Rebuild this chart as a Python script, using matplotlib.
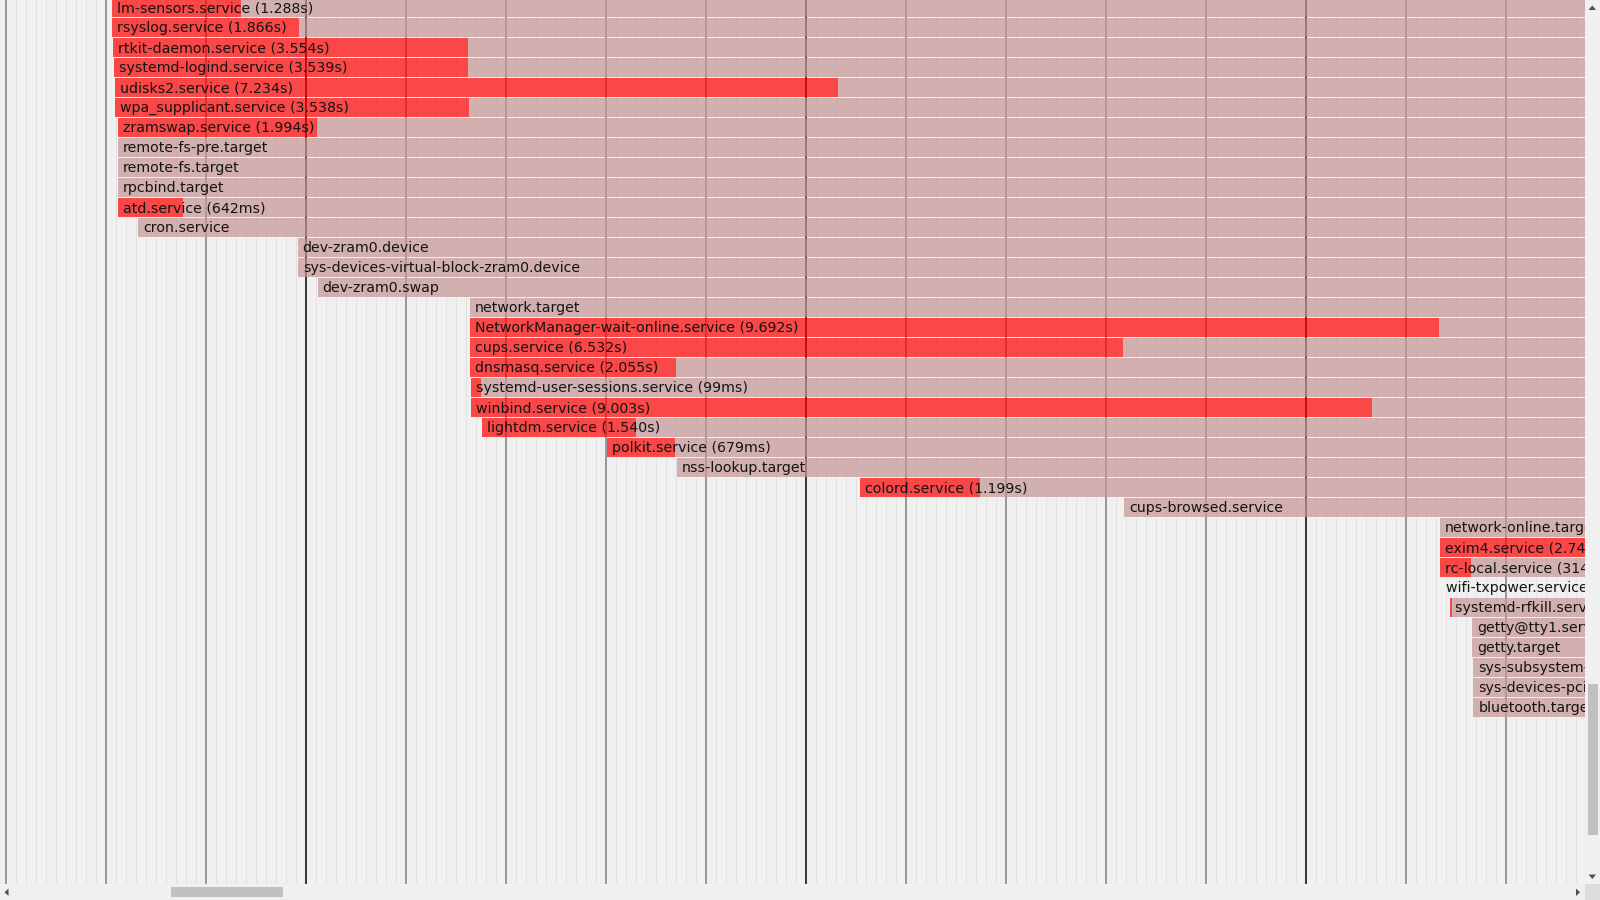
import numpy as np
import matplotlib
matplotlib.use("Agg")
import matplotlib.pyplot as plt
from matplotlib.patches import Rectangle, Polygon
from matplotlib.transforms import IdentityTransform

# unit names, top to bottom
units = [
    "lm-sensors.service", "rsyslog.service", "rtkit-daemon.service",
    "systemd-logind.service", "udisks2.service", "wpa_supplicant.service",
    "zramswap.service", "remote-fs-pre.target", "remote-fs.target",
    "rpcbind.target", "atd.service", "cron.service", "dev-zram0.device",
    "sys-devices-virtual-block-zram0.device", "dev-zram0.swap",
    "network.target", "NetworkManager-wait-online.service", "cups.service",
    "dnsmasq.service", "systemd-user-sessions.service", "winbind.service",
    "lightdm.service", "polkit.service", "nss-lookup.target",
    "colord.service", "cups-browsed.service", "network-online.target",
    "exim4.service", "rc-local.service", "wifi-txpower.service",
    "systemd-rfkill.service", "getty@tty1.service", "getty.target",
    "sys-subsystem-bluetooth-devices-hci0.device",
    "sys-devices-pci0000:00-0000:00:14.0-usb1-1\\x2d7-1\\x2d7:1.0-bluetooth-hci0.device",
    "bluetooth.target",
]

# activation start (s) for each unit
start = [
    3.057, 3.060, 3.070, 3.080, 3.090, 3.090, 3.120, 3.120, 3.120, 3.120,
    3.123, 3.323, 4.917, 4.917, 5.117, 6.637, 6.637, 6.640, 6.643, 6.650,
    6.653, 6.757, 8.007, 8.707, 10.540, 13.180, 16.340, 16.340, 16.340,
    16.345, 16.440, 16.663, 16.663, 16.673, 16.673, 16.673,
]

# time spent activating (s), None = no activation time shown
activating = [
    1.288, 1.866, 3.554, 3.539, 7.234, 3.538, 1.994, None, None, None,
    0.642, None, None, None, None, None, 9.692, 6.532, 2.055, 0.099,
    9.003, 1.540, 0.679, None, 1.199, None, None, 2.746, 0.314,
    0.008, 0.015, None, None, None, None, None,
]

# still active at end of boot?
stays_active = [True] * len(units)
stays_active[units.index("wifi-txpower.service")] = False

BOOT_END = 18.5


def fmt(d):
    if d >= 1:
        return f"{d:.3f}s"
    return f"{d * 1000:.0f}ms"


fig = plt.figure(figsize=(16, 9), dpi=100, facecolor="#f0f0f0")
ax = fig.add_axes([0, 16 / 900, 1585 / 1600, 884 / 900])
ax.set_facecolor("#f0f0f0")
ax.set_xlim(1.94, 1.94 + 1585 / 100)
ax.set_ylim(0.125 + 884 / 20, 0.125)
ax.axis("off")

# time grid: 0.1s minor, 1s and 5s lines
for i in range(10, 185):
    t = i / 10
    if i % 50 == 0:
        ax.axvline(t, color="#3a3a3a", lw=1.44, zorder=1)
    elif i % 10 == 0:
        ax.axvline(t, color="#9a9a9a", lw=1.44, zorder=1)
    else:
        ax.axvline(t, color="#e2e2e2", lw=0.72, zorder=0)

rows = np.arange(len(units))
act = np.array([a if a is not None else 0.0 for a in activating])
st = np.array(start)
activated = st + act
active_w = np.where(stays_active, BOOT_END - activated, 0.0)

ax.barh(rows, act, left=st, height=0.95, align="edge",
        color=(1.0, 0.0, 0.0), alpha=0.7, lw=0, zorder=2)
ax.barh(rows, active_w, left=activated, height=0.95, align="edge",
        color=(200 / 255, 150 / 255, 150 / 255), alpha=0.7, lw=0, zorder=2)

# labels are cut at the right edge, as in the scrolled view
for k, name in enumerate(units):
    label = name if activating[k] is None else f"{name} ({fmt(activating[k])})"
    ax.text(start[k] + 0.05, k + 0.725, label, fontsize=10.18,
            family="DejaVu Sans", color="#141414", va="baseline",
            ha="left", clip_on=True, zorder=3)


# scrollbars (window chrome), drawn in pixel coords, y measured from top
def px_rect(x, y, w, h, color):
    fig.add_artist(Rectangle((x, 900 - y - h), w, h, transform=IdentityTransform(),
                             facecolor=color, edgecolor="none"))


def px_tri(pts, color="#505050"):
    fig.add_artist(Polygon([(x, 900 - y) for x, y in pts], closed=True,
                           transform=IdentityTransform(), facecolor=color,
                           edgecolor="none"))


px_rect(1585, 0, 15, 884, "#f0f0f0")
px_rect(0, 884, 1585, 16, "#f0f0f0")
px_rect(1585, 884, 15, 16, "#dcdcdc")
px_rect(1588, 684, 10, 151, "#c0c0c0")
px_rect(171, 887, 112, 10, "#c0c0c0")
px_tri([(1588.5, 10), (1596, 10), (1592.3, 5.5)])
px_tri([(1588.5, 874.5), (1596, 874.5), (1592.3, 879)])
px_tri([(8.5, 888.5), (8.5, 896), (4.5, 892.3)])
px_tri([(1576, 888.5), (1576, 896), (1580, 892.3)])

fig.savefig("out.png", dpi=100, facecolor=fig.get_facecolor())
